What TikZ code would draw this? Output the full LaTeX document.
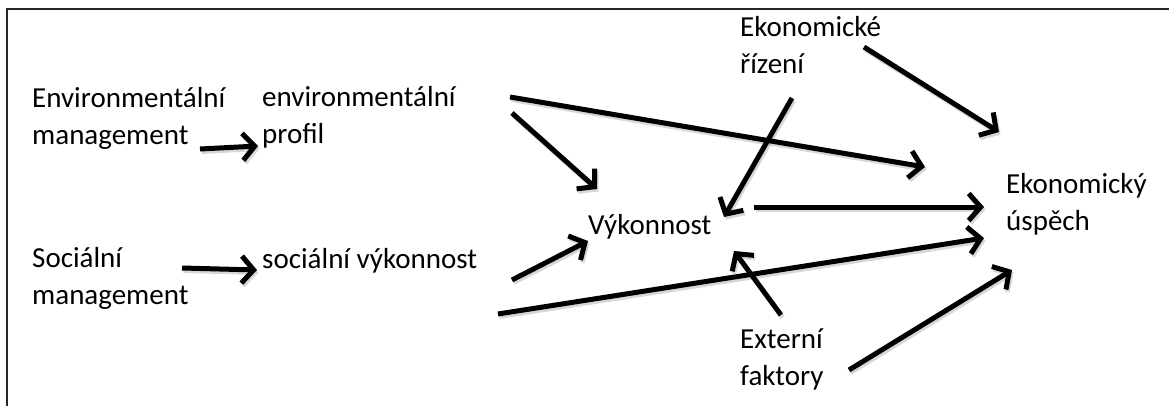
\documentclass[tikz,border=0pt]{standalone}
\usepackage{fontspec}
\setmainfont{Carlito}
\usetikzlibrary{arrows.meta}
\begin{document}
\begin{tikzpicture}[x=1pt,y=-1pt,
  lbl/.style={anchor=base west,inner sep=0pt,align=left,font=\fontsize{29}{37}\selectfont},
  arr/.style={line width=5pt,-{Straight Barb[length=12pt,width=27pt]}},
  shd/.style={line width=5pt,draw=black!35,opacity=0.45,-{Straight Barb[length=12pt,width=27pt]}}]
\useasboundingbox (0,0) rectangle (1169,406);
\draw[line width=2pt,draw=black!85] (7,406) -- (7,9) -- (1169,9);
% text nodes (anchor = baseline of last line)
\node[lbl] (envm) at (32,145) {Environmentální\\management};
\node[lbl] (envp) at (262,144) {environmentální\\profil};
\node[lbl] (socm) at (32,304) {Sociální\\management};
\node[lbl] (socv) at (262,268) {sociální výkonnost};
\node[lbl] (vyk) at (588,234) {Výkonnost};
\node[lbl] (ekr) at (740,74) {Ekonomické\\řízení};
\node[lbl] (eku) at (1006,230) {Ekonomický\\úspěch};
\node[lbl] (ext) at (740,385) {Externí\\faktory};
% connector ends
\coordinate (a1s) at (200,149); \coordinate (a1e) at (258,146);
\coordinate (a2s) at (512,113); \coordinate (a2e) at (597,189);
\coordinate (a3s) at (510,97);  \coordinate (a3e) at (925,167);
\coordinate (a4s) at (792,98);  \coordinate (a4e) at (724,217);
\coordinate (a5s) at (864,47);  \coordinate (a5e) at (999,132);
\coordinate (a6s) at (754,207); \coordinate (a6e) at (984,207);
\coordinate (a7s) at (182,268); \coordinate (a7e) at (257,270);
\coordinate (a8s) at (512,280); \coordinate (a8e) at (588,241);
\coordinate (a9s) at (498,314); \coordinate (a9e) at (984,238);
\coordinate (a10s) at (781,315); \coordinate (a10e) at (734,251);
\coordinate (a11s) at (849,370); \coordinate (a11e) at (1012,270);
\foreach \i in {1,...,11} {
  \draw[shd] ([shift={(1.5,2.5)}]a\i s) -- ([shift={(1.5,2.5)}]a\i e);
}
\foreach \i in {1,...,11} {
  \draw[arr] (a\i s) -- (a\i e);
}
\end{tikzpicture}
\end{document}
